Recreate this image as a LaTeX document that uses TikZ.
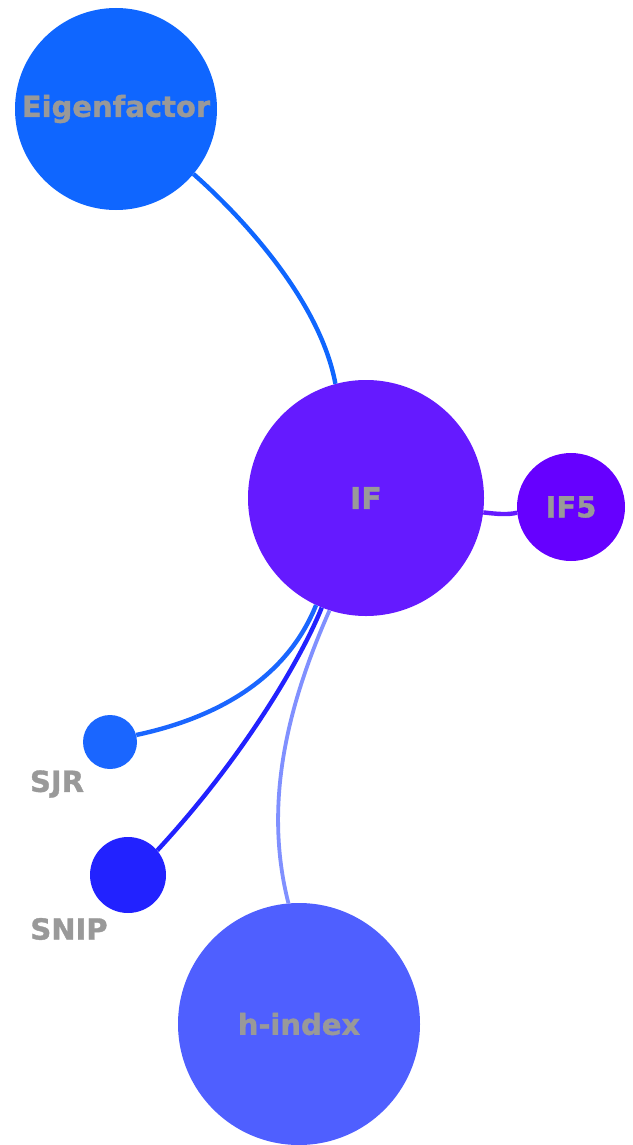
\documentclass[tikz,border=0pt]{standalone}
\usepackage{fontspec}
\setmainfont{DejaVu Sans}[BoldFeatures={FakeBold=1.2}]
\definecolor{ceig}{HTML}{0F66FF}
\definecolor{cif}{HTML}{651AFF}
\definecolor{cifv}{HTML}{6600FF}
\definecolor{csjr}{HTML}{1A66FF}
\definecolor{csnip}{HTML}{2222FF}
\definecolor{chidx}{HTML}{4F5FFF}
\definecolor{chline}{HTML}{8090FF}
\definecolor{ctext}{HTML}{999999}
\begin{document}
\begin{tikzpicture}[x=1pt,y=-1pt,
  bubble/.style={circle,inner sep=0pt,draw=none,text=ctext,font=\fontsize{29}{31}\selectfont\bfseries},
  outlab/.style={text=ctext,font=\fontsize{29}{31}\selectfont\bfseries,inner sep=0pt},
  link/.style={line width=4.4pt}]
\useasboundingbox (0,0) rectangle (632,1145);
\node[bubble,fill=ceig,minimum size=202pt] (eig) at (116,109) {Eigenfactor};
\node[bubble,fill=cif,minimum size=236pt,font=\fontsize{30}{32}\selectfont\bfseries] (if) at (366,498) {IF};
\node[bubble,fill=cifv,minimum size=108pt] (ifv) at (571,507) {IF5};
\node[bubble,fill=csjr,minimum size=54pt,label={[outlab,xshift=-53pt,yshift=-42pt]center:SJR}] (sjr) at (110,742) {};
\node[bubble,fill=csnip,minimum size=76pt,label={[outlab,xshift=-59pt,yshift=-54pt]center:SNIP}] (snip) at (128,875) {};
\node[bubble,fill=chidx,minimum size=242pt] (hidx) at (299,1024) {h-index};
\draw[link,ceig] (eig.-40) .. controls (240,215) and (320,300) .. (if.105);
\draw[link,cif] (if.-7) .. controls (497,514) and (508,515) .. (ifv.186);
\draw[link,csjr] (if.-115) .. controls (290,670) and (230,715) .. (sjr.15);
\draw[link,csnip] (if.-112) .. controls (305,650) and (250,750) .. (snip.40);
\draw[link,chline,line width=3.8pt] (if.-108) .. controls (290,700) and (262,800) .. (hidx.95);
\end{tikzpicture}
\end{document}
